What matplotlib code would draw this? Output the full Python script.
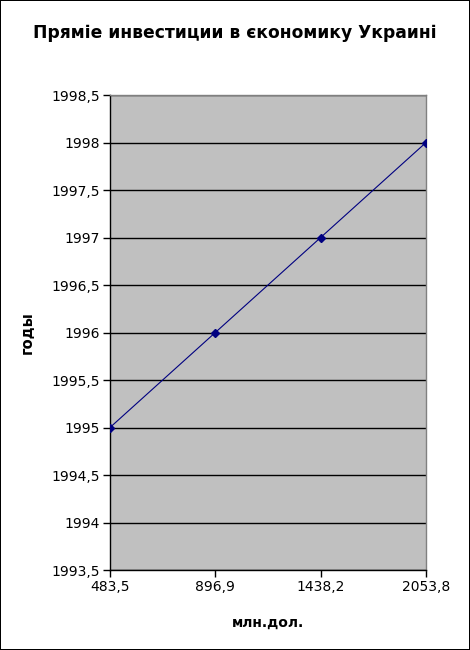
import matplotlib
matplotlib.use("Agg")
import matplotlib.pyplot as plt
from matplotlib.ticker import FuncFormatter, MultipleLocator

# data
categories = ["483,5", "896,9", "1438,2", "2053,8"]
years = [1995, 1996, 1997, 1998]

title = "Пряміе инвестиции в єкономику Украині"
x_label = "млн.дол."
y_label = "годы"


def comma_fmt(v, pos):
    s = f"{v:g}"
    return s.replace(".", ",")


def main():
    plt.rcParams["font.family"] = ["DejaVu Sans"]
    fig = plt.figure(figsize=(4.7, 6.5), dpi=100)
    fig.patch.set_facecolor("white")
    fig.patch.set_edgecolor("black")
    fig.patch.set_linewidth(1.2)

    ax = fig.add_axes([110 / 470, 80 / 650, 316 / 470, 475 / 650])
    ax.set_facecolor("#C0C0C0")

    xs = list(range(len(categories)))
    ax.plot(xs, years, color="#000080", linewidth=0.8, marker="D",
            markersize=4, markerfacecolor="#000080", markeredgecolor="#000080",
            zorder=3)

    ax.set_xlim(0, len(categories) - 1)
    ax.set_ylim(1993.5, 1998.5)
    ax.set_xticks(xs)
    ax.set_xticklabels(categories)
    ax.yaxis.set_major_locator(MultipleLocator(0.5))
    ax.yaxis.set_major_formatter(FuncFormatter(comma_fmt))

    ax.grid(axis="y", color="black", linewidth=1)
    ax.set_axisbelow(True)

    for side in ("top", "right"):
        ax.spines[side].set_color("#808080")
        ax.spines[side].set_linewidth(1)
    for side in ("left", "bottom"):
        ax.spines[side].set_color("black")
        ax.spines[side].set_linewidth(1)

    ax.tick_params(axis="both", direction="out", length=5, width=1,
                   labelsize=10, pad=2)

    fig.text(0.5, 1 - 33 / 650, title, fontsize=12.3, fontweight="bold",
             ha="center", va="center")
    ax.set_xlabel(x_label, fontsize=10, fontweight="bold", labelpad=16)
    ax.set_ylabel(y_label, fontsize=10.5, fontweight="bold", labelpad=12)

    fig.savefig("out.png", dpi=100, edgecolor=fig.get_edgecolor())


if __name__ == "__main__":
    main()
